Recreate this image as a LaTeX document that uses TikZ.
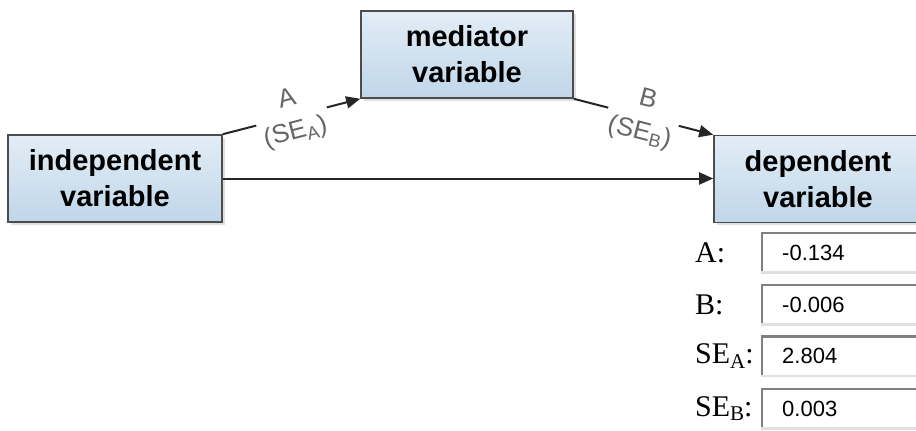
\documentclass[tikz,border=0pt]{standalone}
\usepackage{fontspec}
\setmainfont{Liberation Serif}
\setsansfont{Liberation Sans}
\usetikzlibrary{arrows.meta, positioning, shadows}

\definecolor{boxtop}{RGB}{226,237,246}
\definecolor{boxbot}{RGB}{192,214,233}

\tikzset{
  var/.style={rectangle, draw=black!70, line width=1.6pt, top color=boxtop, bottom color=boxbot,
    drop shadow={shadow xshift=2.5pt, shadow yshift=-2.5pt, fill=black!25},
    align=center, font=\sffamily\bfseries\fontsize{29}{36}\selectfont, minimum height=87pt},
  link/.style={draw=black!85, line width=2pt, -{Triangle[length=14pt,width=12pt]}},
  coef/.style={sloped, fill=white, align=center, text=black!60, inner xsep=4pt, inner ysep=0pt,
    font=\sffamily\fontsize{26}{34}\selectfont},
  field/.style={rectangle, anchor=west, fill=white, minimum height=41pt, text width=150pt,
    inner xsep=21pt, inner ysep=0pt, align=left, font=\sffamily\fontsize{22}{22}\selectfont,
    path picture={
      \draw[line width=4pt, black!50] (path picture bounding box.south west)
        -- (path picture bounding box.north west) -- (path picture bounding box.north east);
      \draw[line width=4pt, black!12] (path picture bounding box.south west)
        -- (path picture bounding box.south east);}},
  fieldlbl/.style={anchor=west, inner sep=0pt, font=\fontsize{30}{30}\selectfont}
}

\begin{document}
\begin{tikzpicture}[x=1pt, y=-1pt]
\clip (0,0) rectangle (916,431);

% the three variables
\node (indep) [var, minimum width=214pt] at (115,178.5) {independent\\variable};
\node (med)   [var, minimum width=212pt] at (467,54.5)  {mediator\\variable};
\node (dep)   [var, minimum width=208pt] at (818,179)   {dependent\\variable};

\draw[link] (indep.north east) -- node[coef] {A\\(SE\textsubscript{A})} (med.south west);
\draw[link] (med.south east) -- node[coef] {B\\(SE\textsubscript{B})} (dep.north west);
\draw[link] (indep.east) -- (indep.east -| dep.west);

% input fields
\node (valA)  [field] at (761,252.5) {-0.134};
\node (valB)  [field, below=11pt of valA.south west, anchor=north west] {-0.006};
\node (valSA) [field, below=10pt of valB.south west, anchor=north west] {2.804};
\node (valSB) [field, below=11pt of valSA.south west, anchor=north west] {0.003};

\coordinate (lblx) at (695,0);
\node (lblA)  [fieldlbl] at (lblx |- valA.west)  {A:};
\node (lblB)  [fieldlbl] at (lblx |- valB.west)  {B:};
\node (lblSA) [fieldlbl] at (lblx |- valSA.west) {SE\raisebox{-0.15em}{\fontsize{21}{21}\selectfont A}:};
\node (lblSB) [fieldlbl] at (lblx |- valSB.west) {SE\raisebox{-0.15em}{\fontsize{21}{21}\selectfont B}:};
\end{tikzpicture}
\end{document}
